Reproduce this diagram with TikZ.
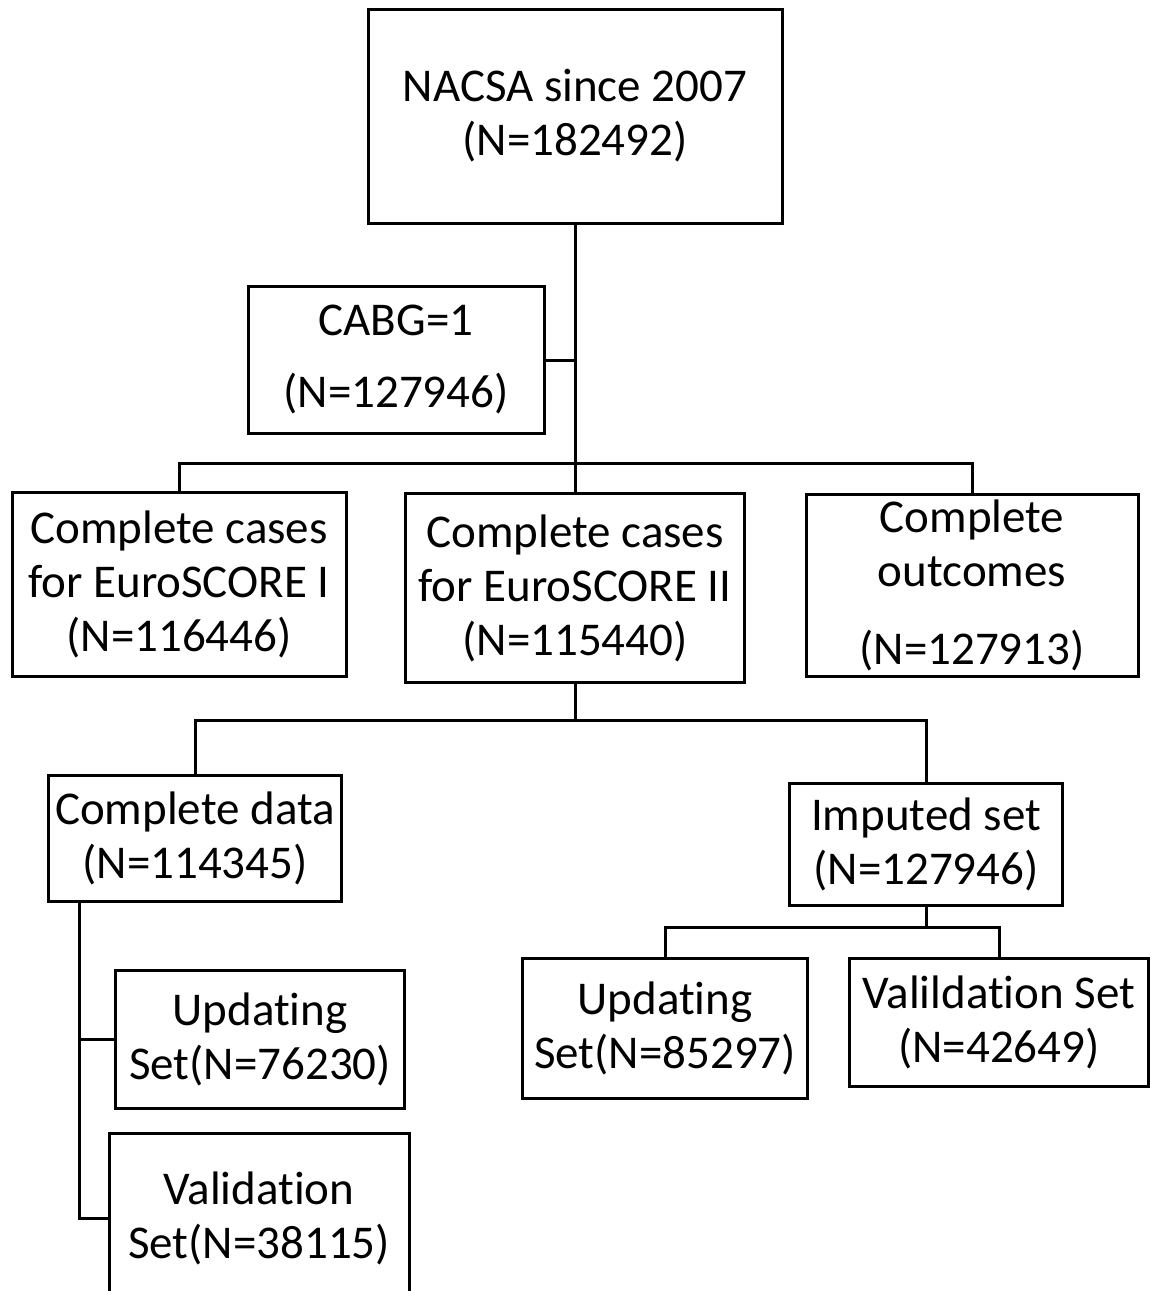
\documentclass[tikz,border=0pt]{standalone}
\usepackage{fontspec}
\setmainfont{Carlito}[Ligatures=NoCommon]
\usetikzlibrary{calc}
\tikzset{
  box/.style={draw=black,line width=1.5pt,fill=white,inner sep=0pt,align=center,
    font=\fontsize{23.5}{27}\selectfont},
  link/.style={draw=black,line width=1.5pt},
}
\begin{document}
\begin{tikzpicture}[x=0.5pt,y=-0.5pt]
  \clip (0,0) rectangle (1150,1291);
  \useasboundingbox (0,0) rectangle (1150,1291);
  % registry and first selection
  \node[box,minimum width=207pt,minimum height=107pt] (nacsa) at (575,116) {NACSA since 2007\\(N=182492)};
  \node[box,minimum width=148pt,minimum height=73.5pt] (cabg) at (396,360) {CABG=1\\[9pt](N=127946)};
  % complete cases
  \node[box,minimum width=167pt,minimum height=92pt] (es1) at (179,584) {Complete cases\\for EuroSCORE I\\(N=116446)};
  \node[box,minimum width=169.5pt,minimum height=94.5pt] (es2) at (575,588) {Complete cases\\for EuroSCORE II\\(N=115440)};
  \node[box,minimum width=166pt,minimum height=91pt] (outc) at (972,585) {Complete\\outcomes\\[12pt](N=127913)};
  % data sets
  \node[box,minimum width=146.5pt,minimum height=63pt] (cdata) at (195,838) {Complete data\\(N=114345)};
  \node[box,minimum width=136.5pt,minimum height=61pt] (imp) at (926,844) {Imputed set\\(N=127946)};
  \node[box,minimum width=144.5pt,minimum height=69pt] (upd1) at (260,1039) {Updating\\Set(N=76230)};
  \node[box,minimum width=150pt,minimum height=85pt] (val1) at (259,1218) {Validation\\Set(N=38115)};
  \node[box,minimum width=142.5pt,minimum height=70pt] (upd2) at (665,1028) {Updating\\Set(N=85297)};
  \node[box,minimum width=149.5pt,minimum height=64pt] (val2) at (999,1022) {Valildation Set\\(N=42649)};
  % junctions
  \coordinate (j1) at (575,463);
  \coordinate (j2) at (575,720);
  \coordinate (j3) at (926,927);
  \coordinate (j4) at (79,901);
  % connectors
  \draw[link] (nacsa.south) -- (j1);
  \draw[link] (cabg.east) -- (cabg.east -| j1);
  \draw[link] (es1.north) |- (j1) -| (outc.north);
  \draw[link] (j1) -- (es2.north);
  \draw[link] (es2.south) -- (j2);
  \draw[link] (cdata.north) |- (j2) -| (imp.north);
  \draw[link] (imp.south) -- (j3);
  \draw[link] (upd2.north) |- (j3) -| (val2.north);
  \draw[link] (j4) |- (val1.west);
  \draw[link] (upd1.west) -- (upd1.west -| j4);
\end{tikzpicture}
\end{document}
